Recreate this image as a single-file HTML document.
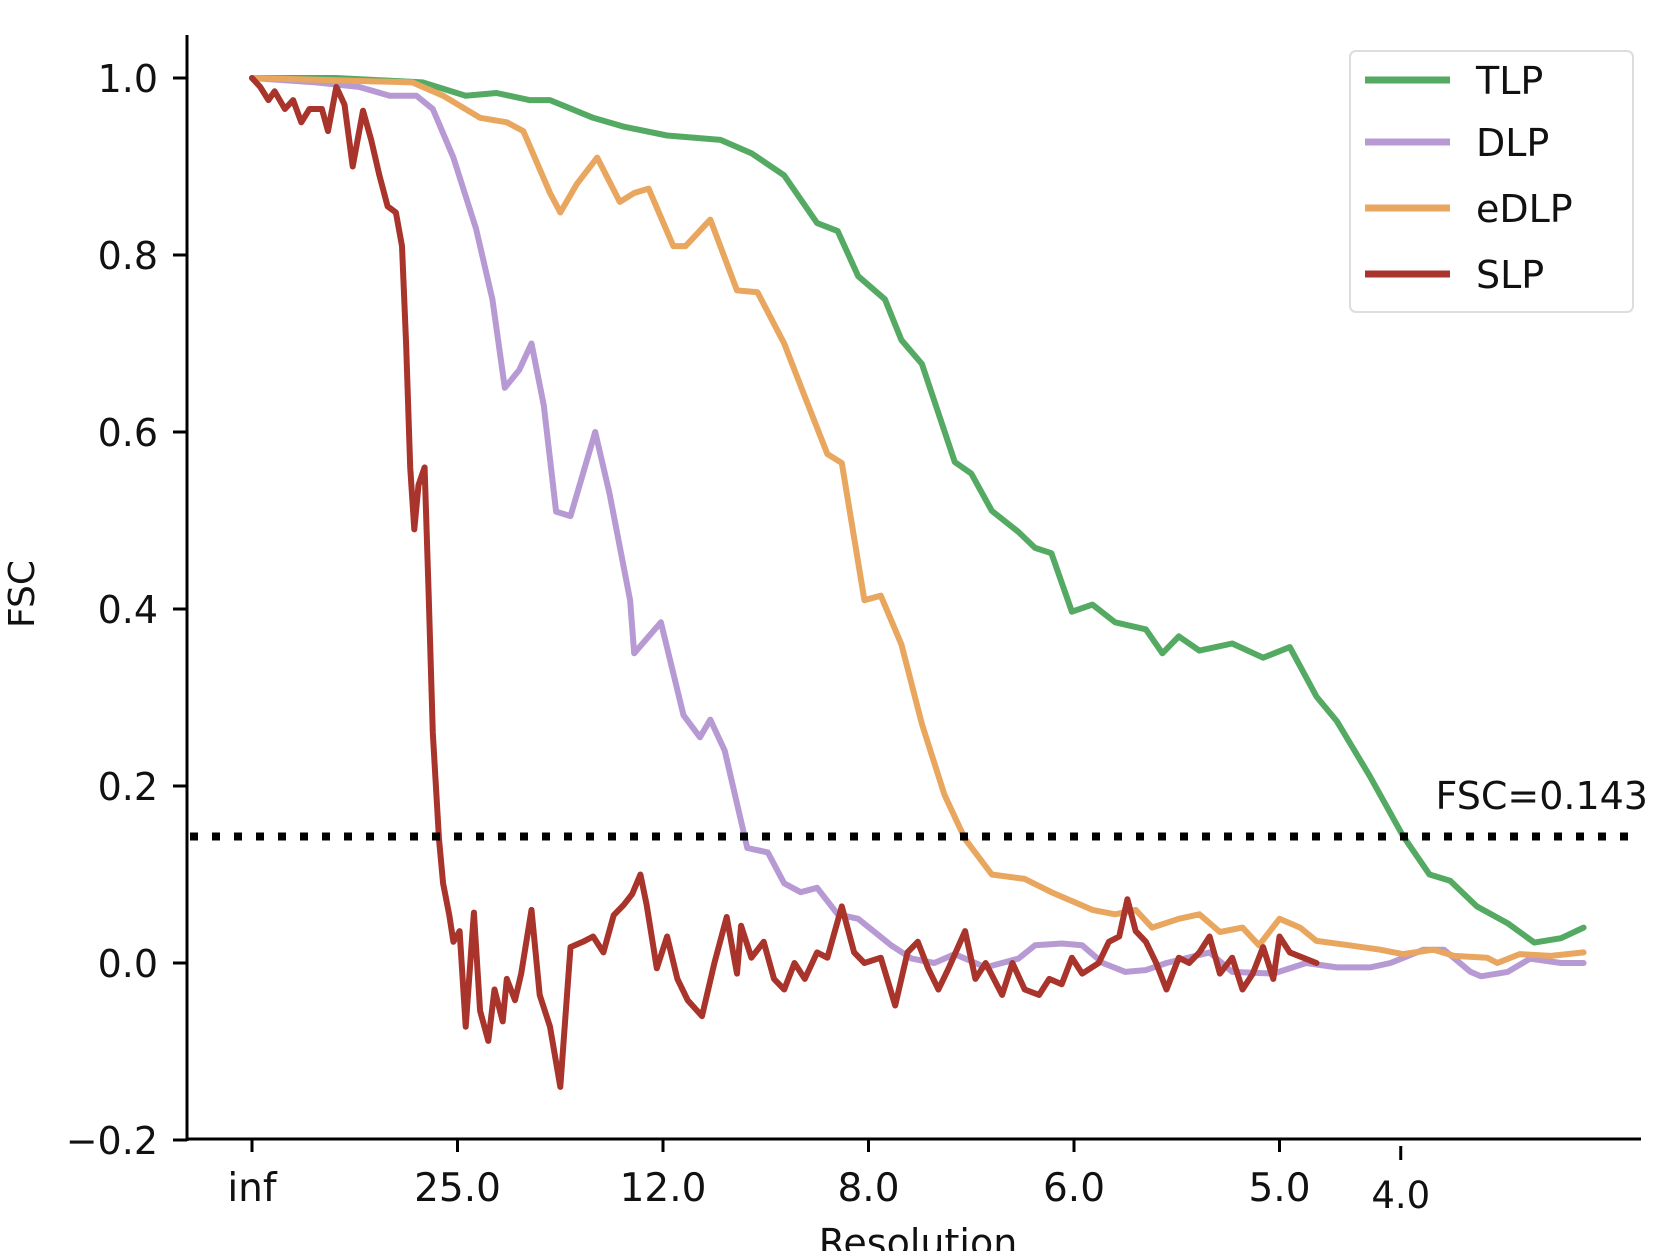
<!DOCTYPE html>
<html><head><meta charset="utf-8"><style>
html,body{margin:0;padding:0;background:#fff;width:1662px;height:1251px;overflow:hidden}
svg text{font-family:"DejaVu Sans","Liberation Sans",sans-serif;fill:#111}
</style></head><body>
<svg id="chart" width="1662" height="1251" xmlns="http://www.w3.org/2000/svg">
<g id="axes"></g>
<g id="series"></g>
<g id="legend"></g>
</svg>
<script>
const yTicks=[1.0,0.8,0.6,0.4,0.2,0.0,-0.2];
const yTickLabels=["1.0","0.8","0.6","0.4","0.2","0.0","\u22120.2"];
const xTicks=[0,100,200,300,400,500];
const xTickLabels=["inf","25.0","12.0","8.0","6.0","5.0"];
const extraTick=559;
const extraTickLabel="4.0";
const threshold=0.143;
const seriesNames=["TLP","DLP","eDLP","SLP"];
const tlpX=[0,41,83,104,119,135,145,166,181,202,228,243,259,275,285,295,308,316,326,342,350,360,373,381,389,399,409,420,435,443,451,461,477,492,505,518,528,544,560,573,583,596,611,624,637,648];
const tlpY=[1.0,1.0,0.995,0.98,0.983,0.975,0.975,0.955,0.945,0.935,0.93,0.915,0.89,0.836,0.827,0.776,0.75,0.704,0.677,0.566,0.553,0.511,0.487,0.469,0.463,0.397,0.405,0.385,0.377,0.35,0.369,0.353,0.361,0.345,0.357,0.301,0.273,0.211,0.144,0.1,0.093,0.064,0.045,0.023,0.028,0.04];
const dlpX=[0,31,52,67,80,88,98,109,117,123,130,136,142,148,155,167,174,184,186,199,210,218,223,230,241,251,259,267,275,285,295,311,321,332,342,357,373,381,394,404,414,425,435,445,466,477,497,513,528,544,554,570,580,593,598,611,622,637,648];
const dlpY=[1.0,0.995,0.99,0.98,0.98,0.965,0.91,0.83,0.75,0.65,0.67,0.7,0.63,0.51,0.505,0.6,0.53,0.41,0.35,0.385,0.28,0.255,0.275,0.24,0.13,0.125,0.09,0.08,0.085,0.055,0.05,0.02,0.005,0.0,0.01,-0.005,0.005,0.02,0.022,0.02,0.0,-0.01,-0.008,0.0,0.012,-0.01,-0.012,0.0,-0.005,-0.005,0.0,0.015,0.015,-0.01,-0.015,-0.01,0.005,0.0,0.0];
const edlpX=[0,78,93,111,124,132,145,150,158,168,179,186,193,205,211,223,236,246,259,269,280,287,298,306,316,326,337,347,360,376,389,409,420,430,438,451,461,471,482,490,500,510,518,534,549,560,575,585,601,606,617,632,648];
const edlpY=[1.0,0.995,0.98,0.955,0.95,0.94,0.87,0.848,0.88,0.91,0.86,0.87,0.875,0.81,0.81,0.84,0.76,0.758,0.7,0.64,0.575,0.565,0.41,0.415,0.36,0.27,0.19,0.14,0.1,0.095,0.08,0.06,0.055,0.06,0.04,0.05,0.055,0.035,0.04,0.02,0.05,0.04,0.025,0.02,0.015,0.01,0.015,0.008,0.006,0.0,0.01,0.008,0.012];
const slpX=[0,4,8,11,16,20,24,28,34,37,41,45,49,54,58,62,66,70,73,75,77,79,81,84,86,88,91,93,96,98,101,104,108,111,115,118,122,124,128,131,136,140,145,150,155,161,166,171,176,181,185,189,192,197,202,207,212,219,225,231,236,238,243,249,254,259,264,269,275,280,287,293,298,306,313,319,324,329,334,339,347,352,357,365,370,376,383,388,394,399,404,412,417,422,426,430,435,440,445,451,456,461,466,471,477,482,487,492,497,500,505,518];
const slpY=[1.0,0.99,0.975,0.985,0.965,0.975,0.95,0.965,0.965,0.94,0.99,0.97,0.9,0.963,0.93,0.89,0.855,0.848,0.81,0.7,0.56,0.49,0.54,0.56,0.415,0.26,0.14,0.09,0.054,0.024,0.036,-0.072,0.057,-0.054,-0.088,-0.03,-0.066,-0.018,-0.042,-0.012,0.06,-0.036,-0.072,-0.14,0.018,0.024,0.03,0.012,0.054,0.066,0.078,0.1,0.066,-0.006,0.03,-0.018,-0.042,-0.06,0.0,0.052,-0.012,0.042,0.006,0.024,-0.018,-0.03,0.0,-0.018,0.012,0.006,0.064,0.012,0.0,0.006,-0.048,0.012,0.024,-0.006,-0.03,-0.006,0.036,-0.018,0.0,-0.036,0.0,-0.03,-0.036,-0.018,-0.024,0.006,-0.012,0.0,0.024,0.03,0.072,0.036,0.024,0.0,-0.03,0.006,0.0,0.012,0.03,-0.012,0.006,-0.03,-0.012,0.018,-0.018,0.03,0.012,0.0];

const NS="http://www.w3.org/2000/svg";
function X(v){return 252+v*2.055;}
function Y(v){return 963-v*885;}
function mk(tag,attrs,parent){const e=document.createElementNS(NS,tag);for(const k in attrs)e.setAttribute(k,attrs[k]);parent.appendChild(e);return e;}
const axes=document.getElementById('axes');
let e=mk('line',{x1:187,y1:35,x2:187,y2:1141,stroke:'#000','stroke-width':3},axes);


e=mk('line',{x1:186,y1:1139,x2:1641,y2:1139,stroke:'#000','stroke-width':3},axes);


yTicks.forEach((v,i)=>{
  const t=mk('line',{x1:173,y1:Y(v),x2:187,y2:Y(v),stroke:'#000','stroke-width':3},axes);
  
  
  const l=mk('text',{x:158,y:Y(v)+14,'text-anchor':'end','font-size':38},axes);
  l.textContent=yTickLabels[i];
  
  
});
xTicks.forEach((v,i)=>{
  const t=mk('line',{x1:X(v),y1:1139,x2:X(v),y2:1152,stroke:'#000','stroke-width':3},axes);
  
  
  const l=mk('text',{x:X(v),y:1201,'text-anchor':'middle','font-size':39},axes);
  l.textContent=xTickLabels[i];
  
  
});
e=mk('line',{x1:X(extraTick),y1:1146,x2:X(extraTick),y2:1160,stroke:'#000','stroke-width':3},axes);


e=mk('text',{x:X(extraTick),y:1208,'text-anchor':'middle','font-size':37},axes);
e.textContent=extraTickLabel;


e=mk('text',{x:918,y:1256,'text-anchor':'middle','font-size':38},axes);
e.textContent='Resolution';


e=mk('text',{x:0,y:0,'text-anchor':'middle','font-size':36,transform:'translate(34,594) rotate(-90)'},axes);
e.textContent='FSC';



const ser=document.getElementById('series');
const colors=['#55aa63','#b79ad3','#e9a65e','#a8342b'];
const xs=[tlpX,dlpX,edlpX,slpX], ys=[tlpY,dlpY,edlpY,slpY];
for(let s=0;s<4;s++){
  const d=xs[s].map((v,i)=>(i?'L':'M')+X(v).toFixed(1)+','+Y(ys[s][i]).toFixed(1)).join(' ');
  const p=mk('path',{d:d,fill:'none',stroke:colors[s],'stroke-width':6,'stroke-linejoin':'round','stroke-linecap':'round'},ser);
  
  
}
e=mk('line',{x1:190,y1:Y(threshold),x2:1641,y2:Y(threshold),stroke:'#000','stroke-width':8,'stroke-dasharray':'8 14'},ser);


e=mk('text',{x:1648,y:809,'text-anchor':'end','font-size':38},ser);
e.textContent='FSC=0.143';



const leg=document.getElementById('legend');
e=mk('rect',{x:1350,y:51,width:283,height:261,rx:6,fill:'#fff',stroke:'#ddd','stroke-width':2},leg);


const ly=[80,142,208,274];
for(let s=0;s<4;s++){
  const g=mk('g',{},leg);
  
  
  mk('line',{x1:1365,y1:ly[s],x2:1450,y2:ly[s],stroke:colors[s],'stroke-width':7},g);
  const t=mk('text',{x:1476,y:ly[s]+14,'font-size':38},g);
  t.textContent=seriesNames[s];
}
</script>
</body></html>
